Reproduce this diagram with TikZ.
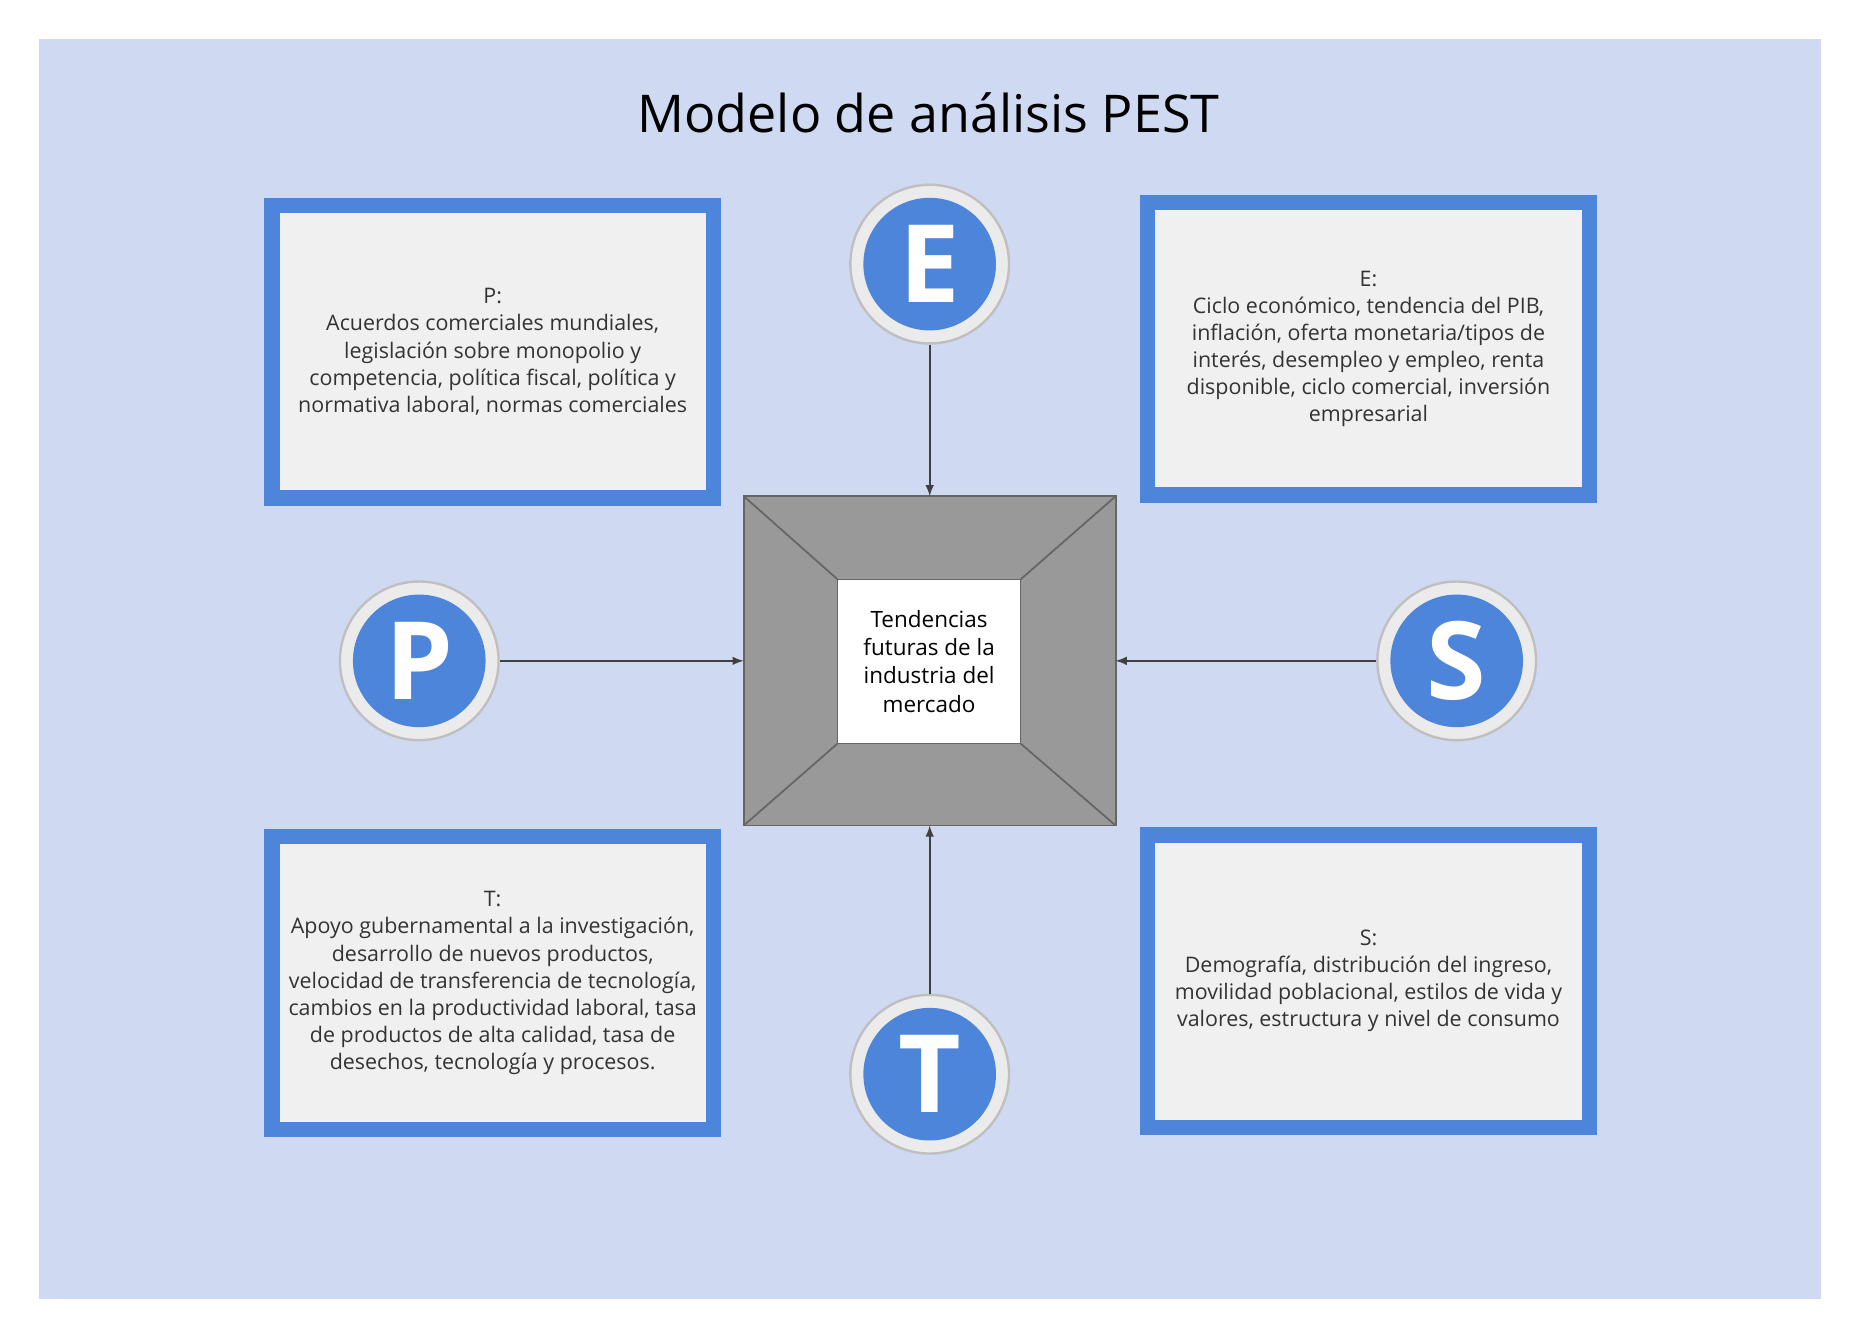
\documentclass[tikz,border=0pt]{standalone}
\usepackage{fontspec}
\setmainfont{Open Sans}
\definecolor{bgblue}{HTML}{D0D9F2}
\definecolor{pestblue}{HTML}{4D85DB}
\definecolor{boxgray}{HTML}{F0F0F0}
\definecolor{ringgray}{HTML}{EBEBEB}
\definecolor{txtgray}{HTML}{333333}
\tikzset{
  factor/.style={draw=pestblue,line width=0.26cm,fill=boxgray,minimum width=7.46cm,minimum height=4.94cm,
    align=center,text=txtgray,font=\fontsize{10.3}{13}\selectfont},
  ring/.style={circle,draw=black!25,line width=0.04cm,fill=ringgray,minimum size=2.68cm},
  letter/.style={circle,fill=pestblue,minimum size=2.24cm,text=white,font=\fontsize{52}{52}\selectfont\bfseries},
  link/.style={-latex,draw=black!75,line width=0.03cm}
}
\begin{document}
\begin{tikzpicture}[x=0.02cm,y=-0.02cm]
\useasboundingbox (0,0) rectangle (1568,1127);
\fill[bgblue] (33,33) rectangle (1538,1097);

\node (title) at (784,95) {\fontsize{25}{30}\selectfont Modelo de análisis PEST};

\node[factor] (boxP) at (416,297) {P:\\Acuerdos comerciales mundiales,\\legislación sobre monopolio y\\competencia, política fiscal, política y\\normativa laboral, normas comerciales};
\node[factor] (boxE) at (1155.5,294.5) {E:\\Ciclo económico, tendencia del PIB,\\inflación, oferta monetaria/tipos de\\interés, desempleo y empleo, renta\\disponible, ciclo comercial, inversión\\empresarial};
\node[factor] (boxT) at (416,830) {T:\\Apoyo gubernamental a la investigación,\\desarrollo de nuevos productos,\\velocidad de transferencia de tecnología,\\cambios en la productividad laboral, tasa\\de productos de alta calidad, tasa de\\desechos, tecnología y procesos.};
\node[factor] (boxS) at (1155.5,828.5) {S:\\Demografía, distribución del ingreso,\\movilidad poblacional, estilos de vida y\\valores, estructura y nivel de consumo};

% center frame
\fill[black!40,draw=black!60,line width=0.03cm] (628,419) rectangle (942,697);
\draw[black!60,line width=0.03cm] (628,419) -- (707,489) (942,419) -- (862,489)
  (628,697) -- (707,628) (942,697) -- (862,628);
\node[draw=black!60,fill=white,minimum width=3.1cm,minimum height=2.78cm,align=center,
  font=\fontsize{10.8}{13.5}\selectfont] (core) at (784.5,558.5) {Tendencias\\futuras de la\\industria del\\mercado};
\coordinate (coreN) at (785,419);
\coordinate (coreS) at (785,697);
\coordinate (coreW) at (628,558);
\coordinate (coreE) at (942,558);

\foreach \name/\x/\y/\l in {cE/785/223/E, cP/354/558/P, cS/1230/558/S, cT/785/907/T}{
  \node[ring] (\name) at (\x,\y) {};
  \node[letter] at (\x,\y) {\l};
}

\draw[link] (cE) -- (coreN);
\draw[link] (cT) -- (coreS);
\draw[link] (cP) -- (coreW);
\draw[link] (cS) -- (coreE);
\end{tikzpicture}
\end{document}
